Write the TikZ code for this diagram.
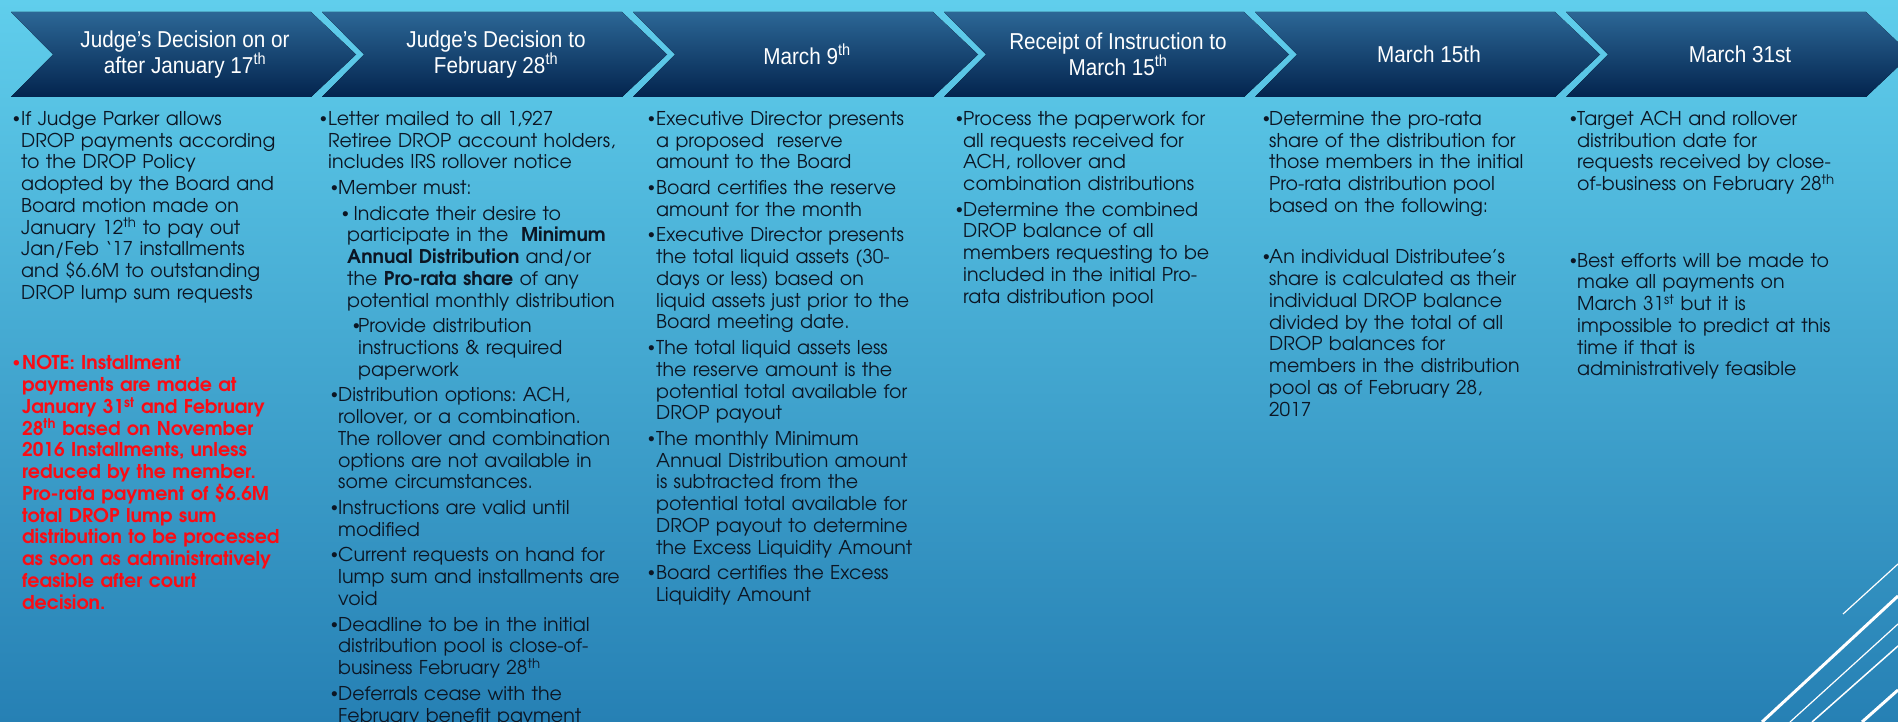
\documentclass[tikz,border=0pt]{standalone}
\usepackage{fontspec}
\setmainfont{texgyreadventor}[Extension=.otf,UprightFont=*-regular,BoldFont=*-bold,ItalicFont=*-italic,BoldItalicFont=*-bolditalic]
\newfontfamily\headfont{Liberation Sans}[FakeStretch=0.9]
\newfontfamily\dotfont{Liberation Sans}
\definecolor{bgtop}{RGB}{96,206,236}
\definecolor{bgbot}{RGB}{38,128,180}
\definecolor{chevtop}{RGB}{44,103,150}
\definecolor{chevbot}{RGB}{3,36,78}
\definecolor{bodytext}{RGB}{12,22,36}
\definecolor{notered}{RGB}{250,12,20}
\newcommand{\bu}[3]{\par\noindent\hangindent=#2pt\hangafter=1\hspace*{#1pt}\makebox[\dimexpr#2pt-#1pt\relax][l]{\dotfont\textbullet}#3\par}
\tikzset{
  chev/.style={top color=chevtop,bottom color=chevbot},
  head/.style={text=white,font=\headfont\fontsize{23}{21}\selectfont,align=center,inner sep=0pt},
  col/.style={anchor=north west,inner sep=0pt,text width=340pt,align=left,text=bodytext,
    font=\fontsize{19}{21.75}\selectfont\frenchspacing,execute at begin node={\setlength{\parskip}{3.9pt}}}
}
\begin{document}
\begin{tikzpicture}[x=1pt,y=1pt]
\useasboundingbox (0,0) rectangle (1898,-722);
\clip (0,0) rectangle (1898,-722);
\shade[top color=bgtop,bottom color=bgbot] (0,0) rectangle (1898,-722);
\foreach \i/\txt in {1/{Judge’s Decision on or\\after January 17\textsuperscript{th}},
    2/{Judge’s Decision to\\February 28\textsuperscript{th}},
    3/{March 9\textsuperscript{th}},
    4/{Receipt of Instruction to\\March 15\textsuperscript{th}},
    5/{March 15th},
    6/{March 31st}}{
  \pgfmathsetmacro{\xl}{11+311*(\i-1)}
  \fill[chev] (\xl,-12) -- ++(300,0) -- ++(45,-42.5) -- ++(-45,-42.5) -- ++(-300,0) -- ++(42,42.5) -- cycle;
  \node[head] (h\i) at (\xl+174,-54.5) {\txt};
}
\draw[white,line width=1.2pt] (1843,-614) -- (1898,-564);
\draw[white,line width=3pt] (1762,-722) -- (1898,-596);
\draw[white,line width=1.2pt] (1790,-722) -- (1898,-624);
\draw[white,line width=1.5pt] (1812,-722) -- (1898,-646);
\draw[white,line width=3pt] (1862,-722) -- (1898,-690);
\node[col] (c1) at (13,-99.5) {%
\bu{0}{8}{If Judge Parker allows\newline DROP payments according\newline to the DROP Policy\newline adopted by the Board and\newline Board motion made on\newline January 12\textsuperscript{th} to pay out\newline Jan/Feb ‘17 installments\newline and \$6.6M to outstanding\newline DROP lump sum requests}
\vspace{45pt}
{\color{notered}\bfseries\bu{0}{9}{NOTE: Installment\newline payments are made at\newline January 31\textsuperscript{st} and February\newline 28\textsuperscript{th} based on November\newline 2016 Installments, unless\newline reduced by the member.\newline Pro-rata payment of \$6.6M\newline total DROP lump sum\newline distribution to be processed\newline as soon as administratively\newline feasible after court\newline decision.}}};
\node[col] (c2) at (320,-99.5) {%
\bu{0}{8}{Letter mailed to all 1,927\newline Retiree DROP account holders,\newline includes IRS rollover notice}
\bu{11}{18}{Member must:}
\bu{22}{27}{\ Indicate their desire to\newline participate in the \ \textbf{Minimum}\newline \textbf{Annual Distribution} and/or\newline the \textbf{Pro-rata share} of any\newline potential monthly distribution}
\bu{33}{38}{Provide distribution\newline instructions \& required\newline paperwork}
\bu{11}{18}{Distribution options: ACH,\newline rollover, or a combination.\newline The rollover and combination\newline options are not available in\newline some circumstances.}
\bu{11}{18}{Instructions are valid until\newline modified}
\bu{11}{18}{Current requests on hand for\newline lump sum and installments are\newline void}
\bu{11}{18}{Deadline to be in the initial\newline distribution pool is close-of-\newline business February 28\textsuperscript{th}}
\bu{11}{18}{Deferrals cease with the\newline February benefit payment}};
\node[col] (c3) at (648,-99.5) {%
\bu{0}{8}{Executive Director presents\newline a proposed \ reserve\newline amount to the Board}
\bu{0}{8}{Board certifies the reserve\newline amount for the month}
\bu{0}{8}{Executive Director presents\newline the total liquid assets (30-\newline days or less) based on\newline liquid assets just prior to the\newline Board meeting date.}
\bu{0}{8}{The total liquid assets less\newline the reserve amount is the\newline potential total available for\newline DROP payout}
\bu{0}{8}{The monthly Minimum\newline Annual Distribution amount\newline is subtracted from the\newline potential total available for\newline DROP payout to determine\newline the Excess Liquidity Amount}
\bu{0}{8}{Board certifies the Excess\newline Liquidity Amount}};
\node[col] (c4) at (956,-99.5) {%
\bu{0}{7}{Process the paperwork for\newline all requests received for\newline ACH, rollover and\newline combination distributions}
\bu{0}{7}{Determine the combined\newline DROP balance of all\newline members requesting to be\newline included in the initial Pro-\newline rata distribution pool}};
\node[col] (c5) at (1263,-99.5) {%
\bu{0}{6}{Determine the pro-rata\newline share of the distribution for\newline those members in the initial\newline Pro-rata distribution pool\newline based on the following:}
\vspace{26pt}
\bu{0}{6}{An individual Distributee’s\newline share is calculated as their\newline individual DROP balance\newline divided by the total of all\newline DROP balances for\newline members in the distribution\newline pool as of February 28,\newline 2017}};
\node[col] (c6) at (1570,-99.5) {%
\bu{0}{7}{Target ACH and rollover\newline distribution date for\newline requests received by close-\newline of-business on February 28\textsuperscript{th}}
\vspace{51pt}
\bu{0}{7}{Best efforts will be made to\newline make all payments on\newline March 31\textsuperscript{st} but it is\newline impossible to predict at this\newline time if that is\newline administratively feasible}};
\end{tikzpicture}
\end{document}
